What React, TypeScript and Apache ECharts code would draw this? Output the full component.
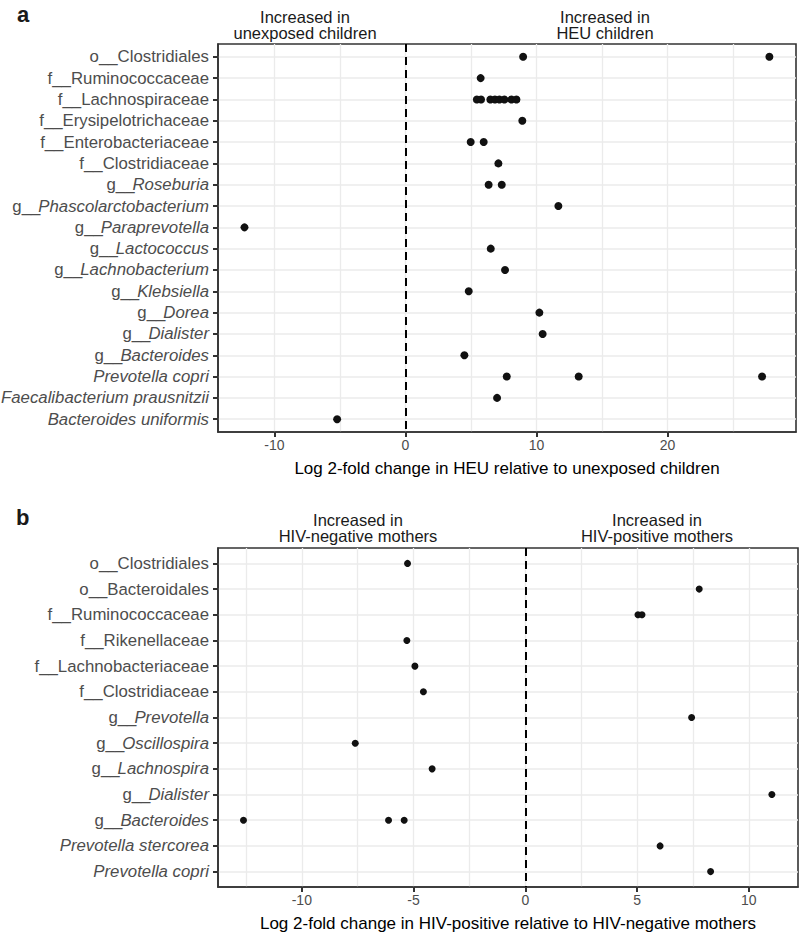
import React, { useEffect, useRef } from "react";
import * as echarts from "echarts";

const categoriesA = [
  "o__Clostridiales",
  "f__Ruminococcaceae",
  "f__Lachnospiraceae",
  "f__Erysipelotrichaceae",
  "f__Enterobacteriaceae",
  "f__Clostridiaceae",
  "g__Roseburia",
  "g__Phascolarctobacterium",
  "g__Paraprevotella",
  "g__Lactococcus",
  "g__Lachnobacterium",
  "g__Klebsiella",
  "g__Dorea",
  "g__Dialister",
  "g__Bacteroides",
  "Prevotella copri",
  "Faecalibacterium prausnitzii",
  "Bacteroides uniformis",
];
const valuesA: number[][] = [
  [8.98, 27.77],
  [5.74],
  [5.45, 5.77, 6.48, 6.83, 7.17, 7.55, 8.09, 8.47],
  [8.92],
  [4.98, 5.97],
  [7.09],
  [6.35, 7.35],
  [11.67],
  [-12.28],
  [6.51],
  [7.6],
  [4.83],
  [10.22],
  [10.47],
  [4.5],
  [7.73, 13.22, 27.21],
  [6.99],
  [-5.21],
];

const categoriesB = [
  "o__Clostridiales",
  "o__Bacteroidales",
  "f__Ruminococcaceae",
  "f__Rikenellaceae",
  "f__Lachnobacteriaceae",
  "f__Clostridiaceae",
  "g__Prevotella",
  "g__Oscillospira",
  "g__Lachnospira",
  "g__Dialister",
  "g__Bacteroides",
  "Prevotella stercorea",
  "Prevotella copri",
];
const valuesB: number[][] = [
  [-5.27],
  [7.78],
  [5.04, 5.22],
  [-5.3],
  [-4.94],
  [-4.56],
  [7.44],
  [-7.61],
  [-4.17],
  [11.03],
  [-12.61, -6.12, -5.42],
  [6.03],
  [8.29],
];

const ticksA = [-10, 0, 10, 20];
const gridLinesA = [-10, -5, 0, 5, 10, 15, 20, 25];
const ticksB = [-10, -5, 0, 5, 10];
const gridLinesB = [-12.5, -10, -7.5, -5, -2.5, 0, 2.5, 5, 7.5, 10, 12.5];

const titleA = "Log 2-fold change in HEU relative to unexposed children";
const titleB = "Log 2-fold change in HIV-positive relative to HIV-negative mothers";
const headersA = ["Increased in\nunexposed children", "Increased in\nHEU children"];
const headersB = ["Increased in\nHIV-negative mothers", "Increased in\nHIV-positive mothers"];

const FONT = '"Liberation Sans", Arial, Helvetica, sans-serif';

function fmtName(name: string): string {
  if (!name) return "";
  if (name.startsWith("g__")) return `{p|g__}{i|${name.slice(3)}}`;
  if (/^[a-z]__/.test(name)) return `{n|${name}}`;
  return `{i|${name}}`;
}

const richLabel = {
  n: { fontSize: 16.8, color: "#4d4d4d", fontFamily: FONT },
  p: { fontSize: 16.8, color: "#4d4d4d", fontFamily: FONT, padding: [0, -2, 0, 0] },
  i: { fontSize: 16.8, color: "#4d4d4d", fontFamily: FONT, fontStyle: "italic" },
};

function toPoints(vals: number[][]): number[][] {
  const out: number[][] = [];
  vals.forEach((row, i) => row.forEach((v) => out.push([v, i])));
  return out;
}

function idx(n: number): number[] {
  return Array.from({ length: n }, (_, i) => i);
}

export default function App() {
  const ref = useRef<HTMLDivElement>(null);
  useEffect(() => {
    document.body.style.margin = "0";
    const chart = echarts.init(ref.current!, undefined, { renderer: "svg" });
    const gridStyle = {
      show: true,
      borderColor: "#333333",
      borderWidth: 1.6,
      backgroundColor: "transparent",
      containLabel: false,
      outerBoundsMode: "none",
    };
    const axisLineStyle = { show: true, onZero: false, lineStyle: { color: "#333333", width: 1.6 } };
    const tickStyle = { color: "#333333", width: 2 };
    const dataX = (gi: number, min: number, max: number, ticks: number[], name: string) => ({
      type: "value",
      gridIndex: gi,
      position: "bottom",
      min,
      max,
      axisLine: axisLineStyle,
      axisTick: { show: true, inside: false, customValues: ticks, length: 5, lineStyle: tickStyle },
      axisLabel: { show: true, customValues: ticks, fontSize: 14, color: "#4d4d4d", fontFamily: FONT, margin: 6 },
      splitLine: { show: false },
      name,
      nameLocation: "middle",
      nameGap: 28,
      nameTextStyle: { fontSize: 17, color: "#000000", fontFamily: FONT },
    });
    const gridX = (gi: number, min: number, max: number, lines: number[]) => ({
      type: "value",
      gridIndex: gi,
      position: "top",
      min,
      max,
      axisLine: { show: false, onZero: false },
      axisTick: { show: false, customValues: lines },
      axisLabel: { show: false },
      splitLine: { show: true, lineStyle: { color: "#ebebeb", width: 1.3 } },
    });
    const catY = (gi: number, cats: string[]) => ({
      type: "value",
      gridIndex: gi,
      position: "left",
      inverse: true,
      min: -0.6,
      max: cats.length - 1 + 0.6,
      axisLine: axisLineStyle,
      axisTick: { show: true, inside: false, customValues: idx(cats.length), length: 5, lineStyle: tickStyle },
      axisLabel: {
        show: true,
        customValues: idx(cats.length),
        margin: 9,
        fontSize: 16.8,
        color: "#4d4d4d",
        fontFamily: FONT,
        formatter: (v: number) => fmtName(cats[Math.round(v)]),
        rich: richLabel,
      },
      splitLine: { show: true, lineStyle: { color: "#ebebeb", width: 1.6 } },
    });
    const zeroLine = {
      silent: true,
      symbol: ["none", "none"],
      label: { show: false },
      emphasis: { disabled: true },
      lineStyle: { color: "#000000", type: [8, 5], width: 2 },
      data: [{ xAxis: 0 }],
    };
    const headerText = (x: number, y: number, text: string) => ({
      type: "text",
      x,
      y,
      style: {
        text,
        font: `16.5px ${FONT}`,
        fill: "#1a1a1a",
        align: "center",
        verticalAlign: "middle",
        lineHeight: 16.5,
      },
    });
    chart.setOption({
      animation: false,
      grid: [
        { ...gridStyle, left: 218, top: 44, width: 578, height: 388 },
        { ...gridStyle, left: 218, top: 548, width: 580, height: 339 },
      ],
      xAxis: [
        dataX(0, -14.3, 29.8, ticksA, titleA),
        gridX(0, -14.3, 29.8, gridLinesA),
        dataX(1, -13.75, 12.2, ticksB, titleB),
        gridX(1, -13.75, 12.2, gridLinesB),
      ],
      yAxis: [catY(0, categoriesA), catY(1, categoriesB)],
      series: [
        {
          type: "scatter",
          xAxisIndex: 0,
          yAxisIndex: 0,
          data: toPoints(valuesA),
          symbolSize: 8,
          itemStyle: { color: "#111111", opacity: 1 },
          markLine: zeroLine,
          z: 5,
        },
        {
          type: "scatter",
          xAxisIndex: 2,
          yAxisIndex: 1,
          data: toPoints(valuesB),
          symbolSize: 7,
          itemStyle: { color: "#111111", opacity: 1 },
          markLine: zeroLine,
          z: 5,
        },
      ],
      graphic: [
        headerText(305, 25, headersA[0]),
        headerText(605, 25, headersA[1]),
        headerText(358, 528, headersB[0]),
        headerText(657, 528, headersB[1]),
        {
          type: "text",
          x: 17,
          y: 14,
          style: { text: "a", font: `bold 22px ${FONT}`, fill: "#1a1a1a", align: "left", verticalAlign: "middle" },
        },
        {
          type: "text",
          x: 16,
          y: 517,
          style: { text: "b", font: `bold 22px ${FONT}`, fill: "#1a1a1a", align: "left", verticalAlign: "middle" },
        },
      ],
    });
    return () => chart.dispose();
  }, []);
  return (
    <div
      ref={ref}
      style={{ position: "fixed", left: 0, top: 0, width: 800, height: 933, background: "#ffffff" }}
    />
  );
}
